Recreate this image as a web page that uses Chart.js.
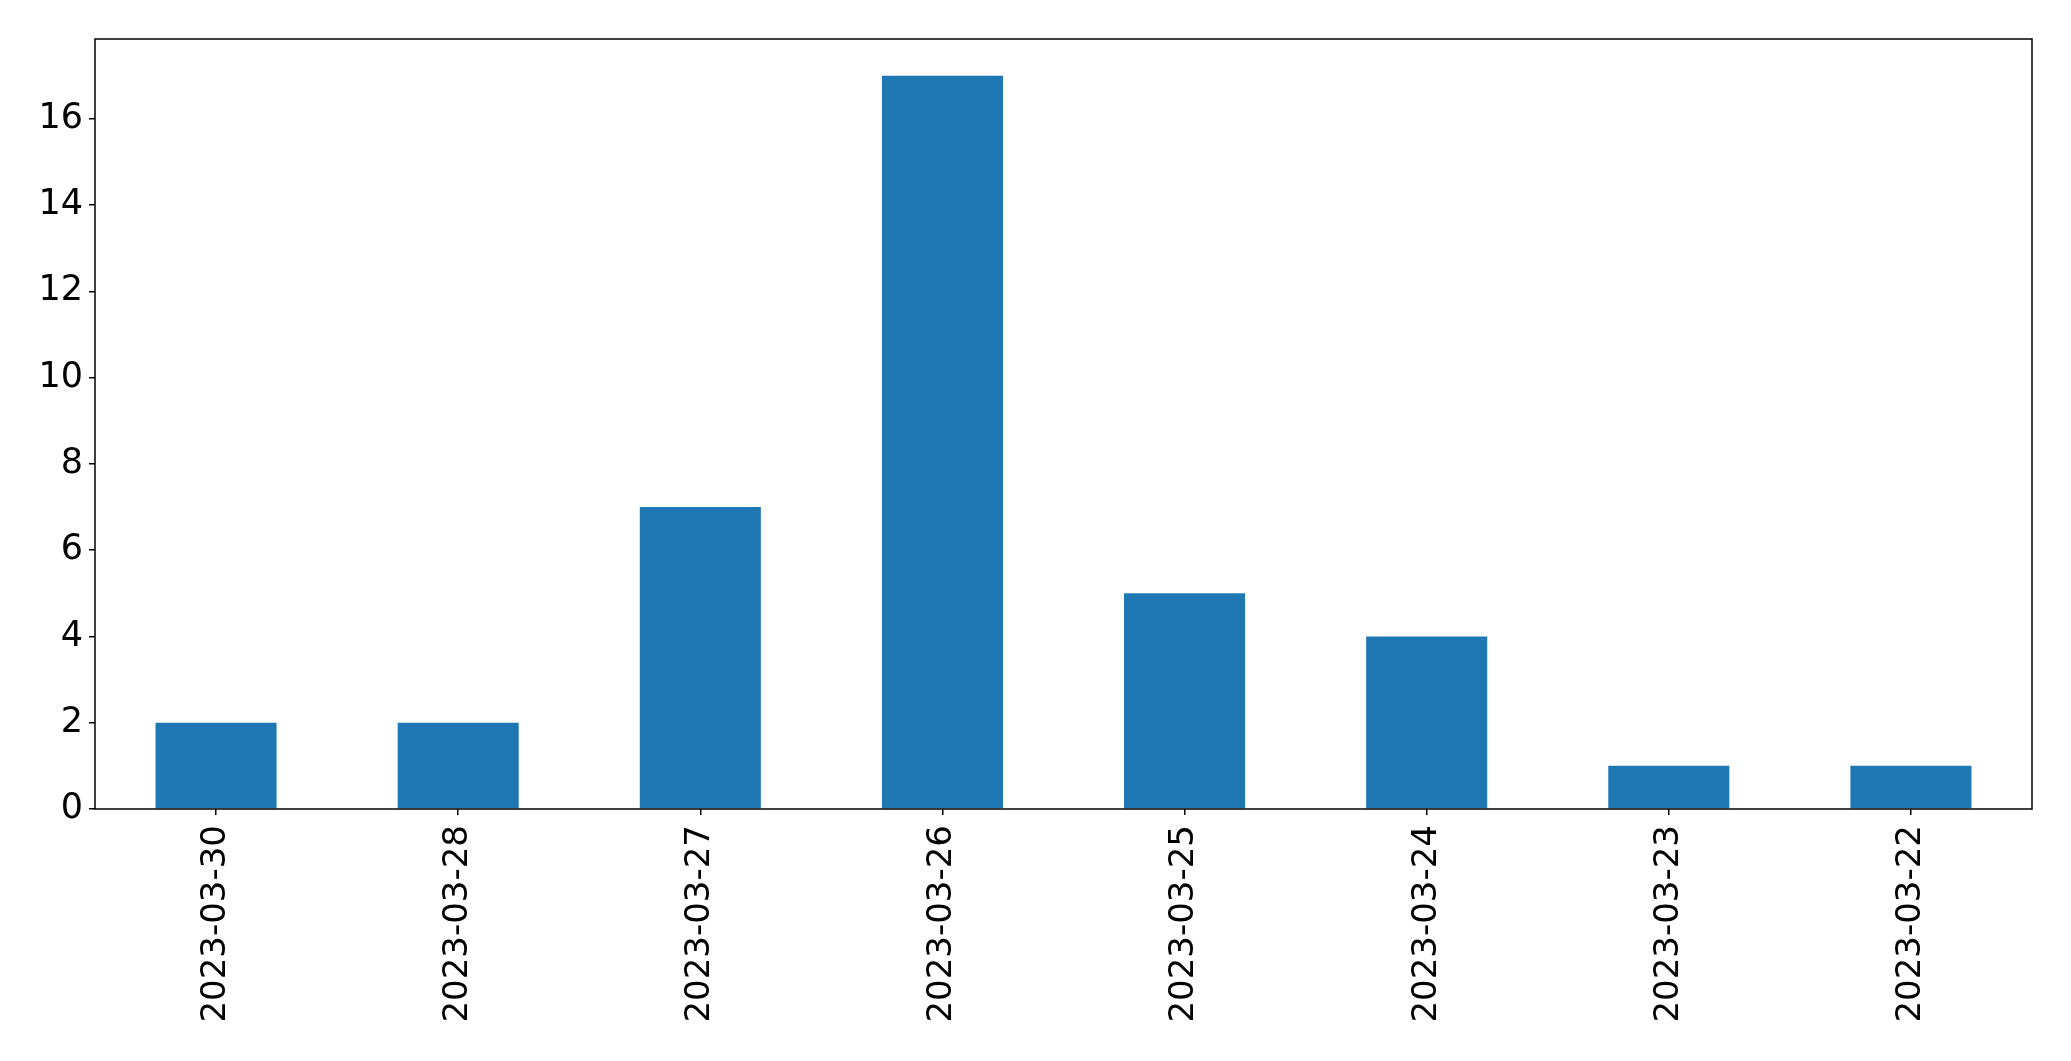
<!DOCTYPE html>
<html>
<head>
<meta charset="utf-8">
<script src="https://cdn.jsdelivr.net/npm/chart.js@4"></script>
<style>
  html, body { margin: 0; padding: 0; background: #fff; }
  #wrap { width: 2071px; height: 1061px; }
</style>
</head>
<body>
<div id="wrap"><canvas id="chart" width="2071" height="1061"></canvas></div>
<script>
// values
const dates = ['2023-03-30', '2023-03-28', '2023-03-27', '2023-03-26', '2023-03-25', '2023-03-24', '2023-03-23', '2023-03-22'];
const counts = [2, 2, 7, 17, 5, 4, 1, 1];
const yMax = 17.85;
const yStep = 2;

const barColor = '#1f77b4';
const fontFamily = '"DejaVu Sans", sans-serif';

// black frame round the plot area
const frame = {
  id: 'frame',
  afterDraw(chart) {
    const a = chart.chartArea;
    const c = chart.ctx;
    c.save();
    c.strokeStyle = '#000';
    c.lineWidth = 1.5;
    c.strokeRect(a.left, a.top, a.right - a.left, a.bottom - a.top);
    c.restore();
  }
};

Chart.defaults.font.family = fontFamily;
Chart.defaults.color = '#000';

new Chart(document.getElementById('chart').getContext('2d'), {
  type: 'bar',
  data: {
    labels: dates,
    datasets: [{
      data: counts,
      backgroundColor: barColor,
      borderWidth: 0,
      categoryPercentage: 1,
      barPercentage: 0.5
    }]
  },
  options: {
    responsive: false,
    animation: false,
    layout: { padding: { left: 0, right: 39, top: 39, bottom: 0 } },
    plugins: {
      legend: { display: false },
      tooltip: { enabled: false }
    },
    scales: {
      x: {
        grid: { display: true, offset: false, drawOnChartArea: false, tickLength: 6, color: '#000', lineWidth: 1.5 },
        border: { display: false },
        ticks: {
          font: { size: 34 },
          minRotation: 90,
          maxRotation: 90,
          padding: 10,
          autoSkip: false
        },
        afterFit(scale) { scale.height = 252; }
      },
      y: {
        min: 0,
        max: yMax,
        grid: { display: true, drawOnChartArea: false, tickLength: 6, color: '#000', lineWidth: 1.5 },
        border: { display: false },
        ticks: {
          stepSize: yStep,
          includeBounds: false,
          font: { size: 35 },
          padding: 6
        },
        afterFit(scale) { scale.width = 95; }
      }
    }
  },
  plugins: [frame]
});
</script>
</body>
</html>
